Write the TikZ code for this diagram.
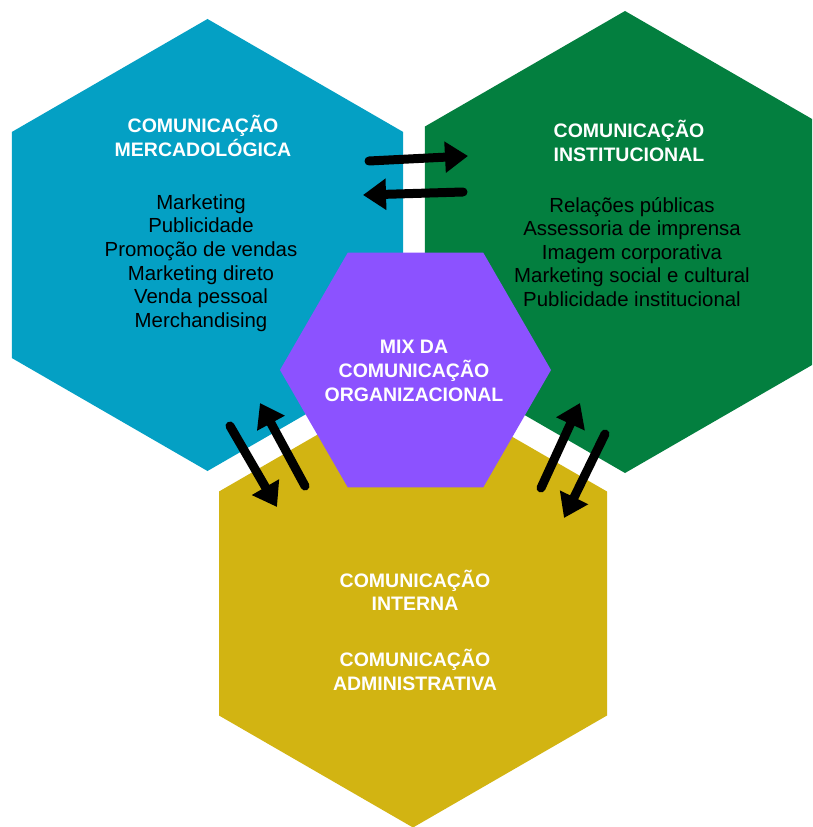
\documentclass[tikz,border=0pt]{standalone}
\usepackage{fontspec}
\setmainfont{Liberation Sans}
\usetikzlibrary{arrows.meta}
\definecolor{mercado}{HTML}{04A0C4}
\definecolor{instit}{HTML}{037F3F}
\definecolor{interna}{HTML}{D2B412}
\definecolor{mix}{HTML}{8C52FF}
\begin{document}
\begin{tikzpicture}[x=0.02cm,y=-0.02cm,
    title/.style={text=white,align=center,font=\bfseries\fontsize{11.1}{13.6}\selectfont},
    list/.style={text=black,align=center,font=\fontsize{11.6}{13.4}\selectfont},
    flow/.style={line width=0.18cm,line cap=round,-{Triangle[length=0.46cm,width=0.6cm]}}]
  \clip (0,0) rectangle (812,827);
  \fill[white] (0,0) rectangle (812,827);
  \fill[mercado] (207.5,245) +(90:226) -- +(150:226) -- +(210:226) -- +(270:226) -- +(330:226) -- +(30:226) -- cycle;
  \fill[instit] (625,242) +(90:231) -- +(150:231) -- +(210:231) -- +(270:231) -- +(330:231) -- +(30:231) -- cycle;
  \fill[interna] (413,603.5) +(90:224) -- +(150:224) -- +(210:224) -- +(270:224) -- +(330:224) -- +(30:224) -- cycle;
  \fill[mix] (415.5,370) +(0:135.5) -- +(60:135.5) -- +(120:135.5) -- +(180:135.5) -- +(240:135.5) -- +(300:135.5) -- cycle;
  \node[title] (mercTitle) at (203,135.5) {COMUNICAÇÃO\\MERCADOLÓGICA};
  \node[list] (mercList) at (201,263) {Marketing\\Publicidade\\Promoção de vendas\\Marketing direto\\Venda pessoal\\Merchandising};
  \node[title] (instTitle) at (629,141) {COMUNICAÇÃO\\INSTITUCIONAL};
  \node[list] (instList) at (632,252) {Relações públicas\\Assessoria de imprensa\\Imagem corporativa\\Marketing social e cultural\\Publicidade institucional};
  \node[title] (mixTitle) at (414,371) {MIX DA\\COMUNICAÇÃO\\ORGANIZACIONAL};
  \node[title] (intTitle) at (415,630) {COMUNICAÇÃO\\INTERNA\\[0.63cm]COMUNICAÇÃO\\ADMINISTRATIVA};
  \coordinate (m1) at (369,161);
  \coordinate (i1) at (468,156);
  \coordinate (i2) at (463,192);
  \coordinate (m2) at (363,195);
  \coordinate (m3) at (230,426);
  \coordinate (n1) at (277,507);
  \coordinate (n2) at (305,486);
  \coordinate (m4) at (260,403);
  \coordinate (n3) at (541,488);
  \coordinate (i3) at (580,403);
  \coordinate (i4) at (605,434);
  \coordinate (n4) at (564,518);
  \begin{scope}[flow]
    \draw (m1) to (i1);
    \draw (i2) to (m2);
    \draw (m3) to (n1);
    \draw (n2) to (m4);
    \draw (n3) to (i3);
    \draw (i4) to (n4);
  \end{scope}
\end{tikzpicture}
\end{document}
